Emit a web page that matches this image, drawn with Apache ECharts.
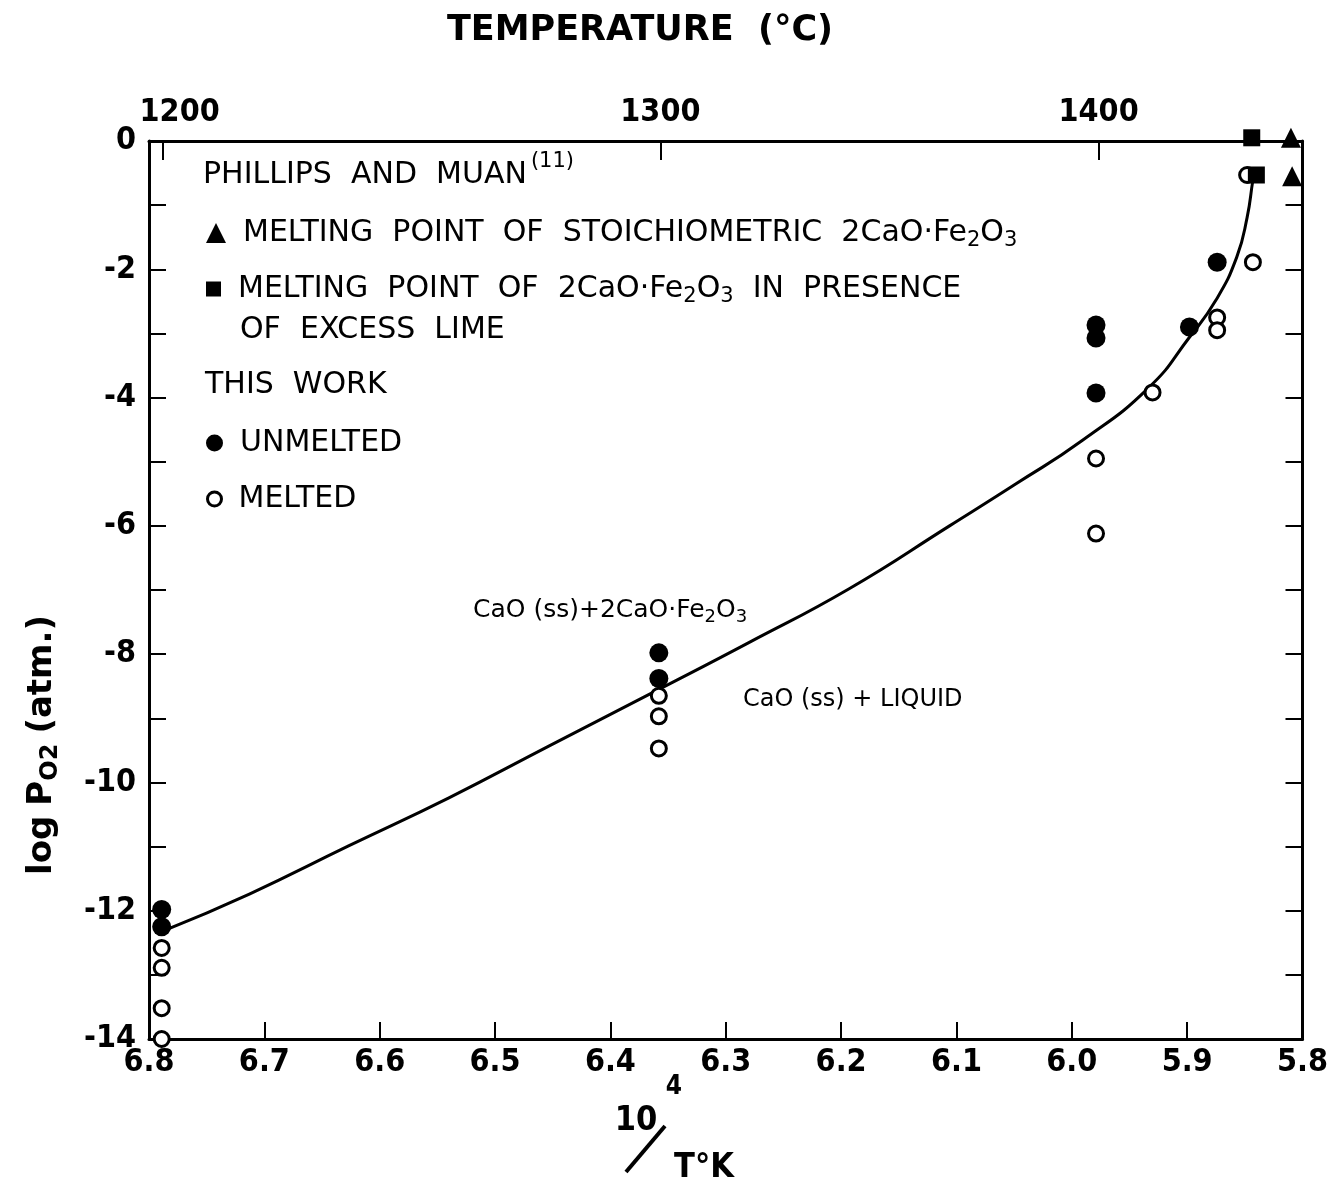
<!DOCTYPE html>
<html><head><meta charset="utf-8">
<script src="https://cdn.jsdelivr.net/npm/echarts@6/dist/echarts.min.js"></script>
<style>html,body{margin:0;padding:0;background:#fff}#c{width:1331px;height:1194px}</style>
</head><body><div id="c"></div>
<script>
// ---- data ----
const tempTicks = [1200, 1300, 1400];                 // top axis labels (°C)
const yLabelValues = [0, -2, -4, -6, -8, -10, -12, -14];

const curveX = [6.787, 6.713, 6.627, 6.540, 6.453, 6.358, 6.280, 6.193, 6.106, 6.048, 5.991, 5.933, 5.898, 5.875, 5.857, 5.848, 5.843, 5.842];
const curveY = [-12.31, -11.74, -10.99, -10.24, -9.43, -8.55, -7.82, -6.98, -6.00, -5.34, -4.67, -3.84, -3.06, -2.48, -1.81, -1.19, -0.61, -0.53];

const unmeltedX = [6.789, 6.789, 6.358, 6.358, 5.979, 5.979, 5.979, 5.898, 5.874];
const unmeltedY = [-11.98, -12.25, -7.98, -8.38, -2.87, -3.07, -3.93, -2.90, -1.89];

const meltedX = [6.789, 6.789, 6.789, 6.789, 6.358, 6.358, 6.358, 5.979, 5.979, 5.930, 5.874, 5.874, 5.843, 5.848];
const meltedY = [-12.58, -12.89, -13.52, -14.00, -8.65, -8.97, -9.47, -4.95, -6.12, -3.92, -2.75, -2.95, -1.89, -0.53];

const squareX = [5.844, 5.840];
const squareY = [0.05, -0.53];

const triangleX = [5.810, 5.809];
const triangleY = [0.05, -0.55];

// ---- helpers ----
const zip = (xs, ys) => xs.map((x, i) => [x, ys[i]]);
const invT = tempTicks.map(t => 1e4 / (t + 273.15));
const FT = "'DejaVu Sans Condensed','Liberation Sans Narrow','DejaVu Sans',sans-serif";
const FL = "'DejaVu Sans','Noto Sans',sans-serif";
const subRich = (fs, pad) => ({ fontSize: fs, fontFamily: FL, color: '#000', padding: pad });

const legendRich = {
  a: { fontSize: 30, fontFamily: FL, color: '#000' },
  s: subRich(21, [16, 0, 0, 0])
};

const names = {
  tri: 'MELTING POINT OF STOICHIOMETRIC 2CaO·Fe2O3',
  sq: 'MELTING POINT OF 2CaO·Fe2O3 IN PRESENCE',
  un: 'UNMELTED',
  me: 'MELTED'
};
const legendLabel = {
  [names.tri]: '{a|MELTING  POINT  OF  STOICHIOMETRIC  2CaO·Fe}{s|2}{a|O}{s|3}',
  [names.sq]: '{a|MELTING  POINT  OF  2CaO·Fe}{s|2}{a|O}{s|3}{a|  IN  PRESENCE}',
  [names.un]: '{a|UNMELTED}',
  [names.me]: '{a|MELTED}'
};

function mkLegend(name, top, size, itemStyle) {
  return {
    data: [name], left: 201, top: top, selectedMode: false,
    itemWidth: size, itemHeight: size, itemGap: 0,
    formatter: n => legendLabel[n],
    itemStyle: itemStyle,
    textStyle: { rich: legendRich, padding: [0, 0, 0, 12] }
  };
}

const chart = echarts.init(document.getElementById('c'), null, { renderer: 'canvas' });
const axisLine = { show: true, onZero: false, lineStyle: { color: '#000', width: 3 } };
const tickFont = { color: '#000', fontSize: 32, fontFamily: FT, fontWeight: 'bold' };

chart.setOption({
  backgroundColor: '#fff',
  animation: false,
  grid: { left: 149, right: 28, top: 141, bottom: 155, containLabel: false },
  xAxis: [
    {
      type: 'value', position: 'bottom', min: 5.8, max: 6.8, interval: 0.1, inverse: true,
      axisLine: axisLine,
      axisTick: { inside: true, length: 17, lineStyle: { color: '#000', width: 2 } },
      axisLabel: Object.assign({ margin: 8, formatter: v => v.toFixed(1) }, tickFont),
      splitLine: { show: false }
    },
    {
      type: 'value', position: 'top', min: 5.8, max: 6.8, inverse: true,
      axisLine: axisLine,
      axisTick: { inside: true, length: 19, customValues: invT, lineStyle: { color: '#000', width: 2 } },
      axisLabel: Object.assign({ margin: 12, customValues: invT,
        rich: { o: Object.assign({ padding: [0, 0, 0, 34] }, tickFont) },
        formatter: v => {
          let best = 0;
          invT.forEach((iv, i) => { if (Math.abs(iv - v) < Math.abs(invT[best] - v)) best = i; });
          return best === 0 ? '{o|' + tempTicks[best] + '}' : String(tempTicks[best]);
        } }, tickFont),
      splitLine: { show: false }
    }
  ],
  yAxis: [
    {
      type: 'value', position: 'left', min: -14, max: 0, interval: 1,
      axisLine: axisLine,
      axisTick: { inside: true, length: 17, lineStyle: { color: '#000', width: 2 } },
      axisLabel: Object.assign({ margin: 13,
        formatter: v => yLabelValues.indexOf(v) >= 0 ? String(v) : '' }, tickFont),
      splitLine: { show: false }
    },
    {
      type: 'value', position: 'right', min: -14, max: 0, interval: 1,
      axisLine: axisLine,
      axisTick: { inside: true, length: 17, lineStyle: { color: '#000', width: 2 } },
      axisLabel: { show: false },
      splitLine: { show: false }
    }
  ],
  legend: [
    mkLegend(names.tri, 213, 20, { color: '#000', opacity: 1 }),
    mkLegend(names.sq, 269, 15, { color: '#000', opacity: 1 }),
    mkLegend(names.un, 423, 17, { color: '#000', opacity: 1 }),
    mkLegend(names.me, 479, 14, { color: '#fff', borderColor: '#000', borderWidth: 3, opacity: 1 })
  ],
  series: [
    {
      name: 'curve', type: 'line', data: zip(curveX, curveY), smooth: 0.5,
      symbol: 'none', lineStyle: { color: '#000', width: 3 }, z: 2, silent: true
    },
    {
      name: names.un, type: 'scatter', data: zip(unmeltedX, unmeltedY), symbol: 'circle', symbolSize: 19,
      itemStyle: { color: '#000', opacity: 1 }, clip: false, z: 3
    },
    {
      name: names.me, type: 'scatter', data: zip(meltedX, meltedY), symbol: 'circle', symbolSize: 15,
      itemStyle: { color: '#fff', borderColor: '#000', borderWidth: 3, opacity: 1 }, clip: false, z: 4
    },
    {
      name: names.sq, type: 'scatter', data: zip(squareX, squareY), symbol: 'rect', symbolSize: 17,
      itemStyle: { color: '#000', opacity: 1 }, clip: false, z: 5
    },
    {
      name: names.tri, type: 'scatter', data: zip(triangleX, triangleY), symbol: 'triangle', symbolSize: 20,
      itemStyle: { color: '#000', opacity: 1 }, clip: false, z: 5
    }
  ],
  graphic: [
    { type: 'text', x: 640, y: 31, style: { text: 'TEMPERATURE  (°C)', fontSize: 35, fontWeight: 'bold',
      fontFamily: FL, fill: '#000', align: 'center', verticalAlign: 'middle' } },
    { type: 'text', x: 203, y: 175, style: { text: '{a|PHILLIPS  AND  MUAN}{p|(11)}', verticalAlign: 'middle', align: 'left',
      rich: { a: legendRich.a, p: subRich(21, [0, 0, 26, 4]) } } },
    { type: 'text', x: 240, y: 330, style: { text: 'OF  EXCESS  LIME', fontSize: 30, fontFamily: FL, fill: '#000',
      verticalAlign: 'middle', align: 'left' } },
    { type: 'text', x: 205, y: 385, style: { text: 'THIS  WORK', fontSize: 30, fontFamily: FL, fill: '#000',
      verticalAlign: 'middle', align: 'left' } },
    { type: 'text', x: 473, y: 610, style: { text: '{a|CaO (ss)+2CaO·Fe}{s|2}{a|O}{s|3}', verticalAlign: 'middle', align: 'left',
      rich: { a: { fontSize: 25, fontFamily: FL, color: '#000' }, s: subRich(18, [14, 0, 0, 0]) } } },
    { type: 'text', x: 743, y: 700, style: { text: 'CaO (ss) + LIQUID', fontSize: 24, fontFamily: FL, fill: '#000',
      verticalAlign: 'middle', align: 'left' } },
    { type: 'text', x: 42, y: 745, rotation: Math.PI / 2, style: { text: '{a|log}   {a|P}{s|O2}   {a|(atm.)}',
      verticalAlign: 'middle', align: 'center',
      rich: { a: { fontSize: 34, fontWeight: 'bold', fontFamily: FL, color: '#000' },
              s: { fontSize: 24, fontWeight: 'bold', fontFamily: FL, color: '#000', padding: [18, 0, 0, 0] } } } },
    { type: 'text', x: 636, y: 1121, style: { text: '10', fontSize: 34, fontWeight: 'bold', fontFamily: FT, fill: '#000',
      align: 'center', verticalAlign: 'middle' } },
    { type: 'text', x: 674, y: 1087, style: { text: '4', fontSize: 26, fontWeight: 'bold', fontFamily: FT, fill: '#000',
      align: 'center', verticalAlign: 'middle' } },
    { type: 'line', shape: { x1: 626, y1: 1172, x2: 665, y2: 1126 }, style: { stroke: '#000', lineWidth: 4 } },
    { type: 'text', x: 704, y: 1168, style: { text: 'T°K', fontSize: 34, fontWeight: 'bold', fontFamily: FT, fill: '#000',
      align: 'center', verticalAlign: 'middle' } }
  ]
});
</script></body></html>
